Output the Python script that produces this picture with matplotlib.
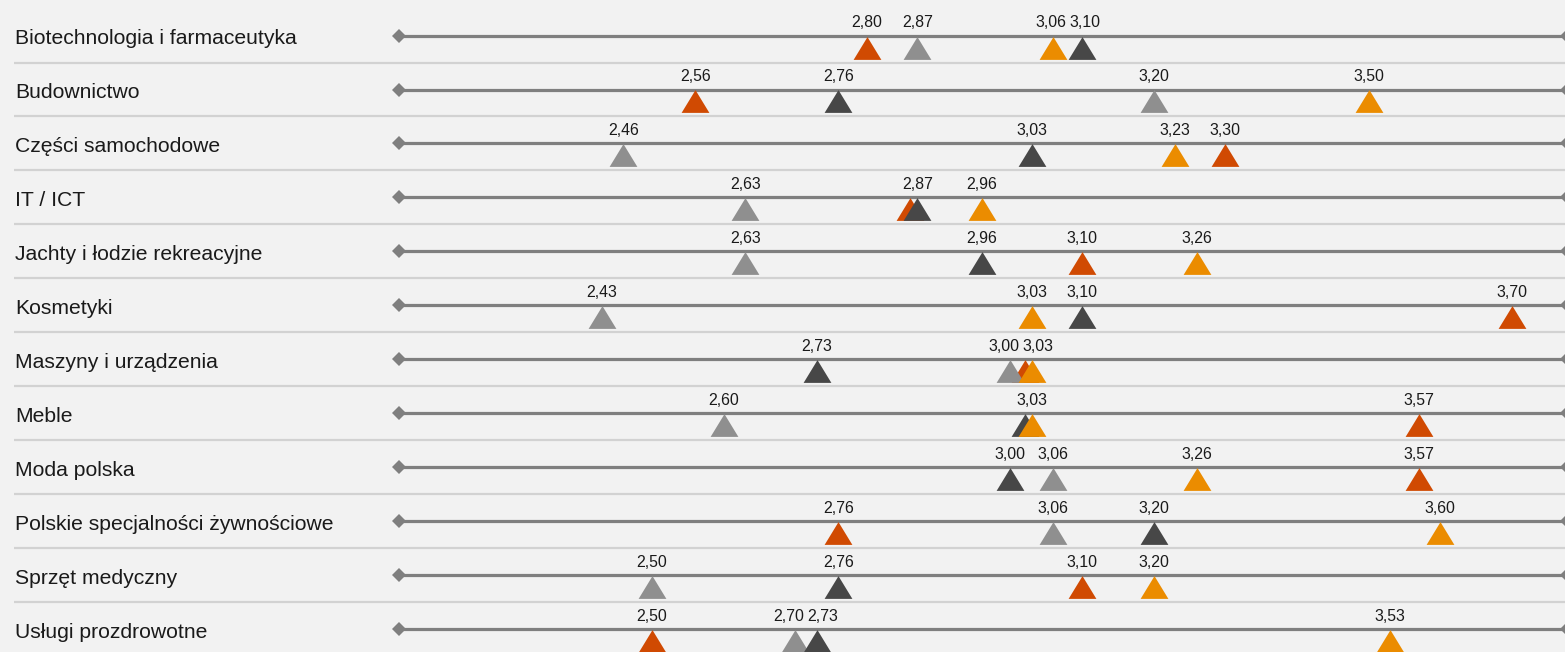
#!/usr/bin/env python3
"""
Dot-plot of ratings per industry: four series shown as triangles on a track
"""

import numpy as np
import matplotlib
matplotlib.use("Agg")
import matplotlib.pyplot as plt
from matplotlib.path import Path

plt.rcParams['font.family'] = ['Liberation Sans', 'DejaVu Sans']

categories = [
    "Biotechnologia i farmaceutyka",
    "Budownictwo",
    "Części samochodowe",
    "IT / ICT",
    "Jachty i łodzie rekreacyjne",
    "Kosmetyki",
    "Maszyny i urządzenia",
    "Meble",
    "Moda polska",
    "Polskie specjalności żywnościowe",
    "Sprzęt medyczny",
    "Usługi prozdrowotne",
]

# one value per category for each series
red_vals = [2.80, 2.56, 3.30, 2.86, 3.10, 3.70, 3.02, 3.57, 3.57, 2.76, 3.10, 2.50]
gray_vals = [2.87, 3.20, 2.46, 2.63, 2.63, 2.43, 3.00, 2.60, 3.06, 3.06, 2.50, 2.70]
dark_vals = [3.10, 2.76, 3.03, 2.87, 2.96, 3.10, 2.73, 3.02, 3.00, 3.20, 2.76, 2.73]
orange_vals = [3.06, 3.50, 3.23, 2.96, 3.26, 3.03, 3.03, 3.03, 3.26, 3.60, 3.20, 3.53]

# drawing order (later ones sit on top)
series = [
    (red_vals, '#D04A02'),
    (gray_vals, '#8F8F8F'),
    (dark_vals, '#474747'),
    (orange_vals, '#EB8C00'),
]

BG = '#F2F2F2'
TRACK = '#7F7F7F'
SEP = '#D2D2D2'

# view range and the drawn scale track
X_VIEW = (1.590, 3.774)
TRACK_RANGE = (2.147, 3.777)

# wide, slightly flattened triangle marker
TRI = Path([(-0.5, -0.41), (0.5, -0.41), (0.0, 0.41), (-0.5, -0.41)],
           [Path.MOVETO, Path.LINETO, Path.LINETO, Path.CLOSEPOLY])


def spread_labels(xs, min_gap):
    """Push label centres apart so the texts do not overlap"""
    xs = np.asarray(xs, dtype=float)
    order = np.argsort(xs)
    pos = xs[order].copy()
    for _ in range(100):
        moved = False
        for k in range(1, len(pos)):
            gap = pos[k] - pos[k - 1]
            if gap < min_gap - 0.01:
                shift = (min_gap - gap) / 2
                pos[k - 1] -= shift
                pos[k] += shift
                moved = True
        if not moved:
            break
    out = np.empty_like(pos)
    out[order] = pos
    return out


def make_chart():
    fig = plt.figure(figsize=(15.65, 6.52), dpi=100, facecolor=BG)
    ax = fig.add_axes([0, 0, 1, 1])
    ax.set_facecolor(BG)
    ax.set_xlim(*X_VIEW)
    n = len(categories)
    ax.set_ylim(n - 1 + 0.43, -0.66)
    ax.axis('off')

    for i, name in enumerate(categories):
        # row separator
        if i < n - 1:
            ax.plot([X_VIEW[0] + 0.0194, X_VIEW[1]], [i + 0.5, i + 0.5],
                    color=SEP, lw=1.6, solid_capstyle='butt', zorder=1)
        # track with diamond ends
        ax.plot(TRACK_RANGE, [i, i], color=TRACK, lw=2.3, zorder=2,
                marker='D', markersize=7.2, markeredgewidth=0, clip_on=True)
        # category label
        ax.text(0.0095, i + 0.163, name, transform=ax.get_yaxis_transform(),
                ha='left', va='baseline', fontsize=15.2, color='#1a1a1a')

        # triangles
        for vals, color in series:
            ax.plot(vals[i], i + 0.222, marker=TRI, markersize=20,
                    color=color, markeredgewidth=0, linestyle='none', zorder=3)

        # value labels: a label covered by a later, nearly equal one is dropped
        row_vals = [vals[i] for vals, _ in series]
        shown = []
        for k, v in enumerate(row_vals):
            if any(abs(v - w) < 0.015 for w in row_vals[k + 1:]):
                continue
            shown.append(v)
        px = ax.transData.transform([(v, i) for v in shown])[:, 0]
        new_px = spread_labels(px, 34)
        for v, p0, p1 in zip(shown, px, new_px):
            ax.annotate(f"{v:.2f}".replace('.', ','), xy=(v, i - 0.152),
                        xytext=(p1 - p0, 0), textcoords='offset pixels',
                        ha='center', va='baseline', fontsize=11.4,
                        color='#1a1a1a', zorder=4)

    fig.savefig('out.png', dpi=100, facecolor=BG)
    return fig


if __name__ == "__main__":
    make_chart()
